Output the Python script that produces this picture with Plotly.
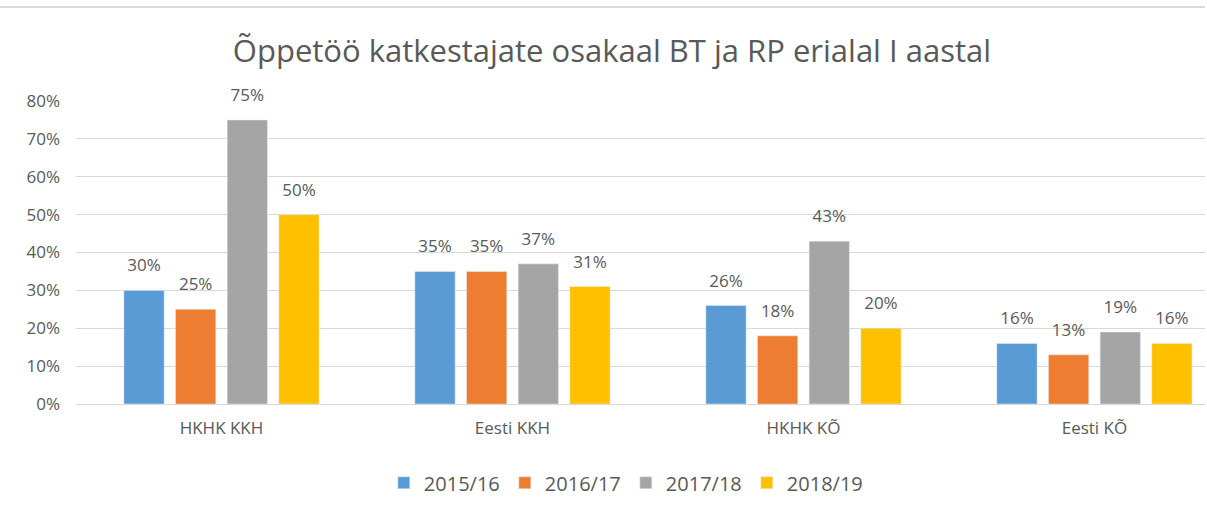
import plotly.graph_objects as go

categories = ["HKHK KKH", "Eesti KKH", "HKHK KÕ", "Eesti KÕ"]
series_names = ["2015/16", "2016/17", "2017/18", "2018/19"]
values_2015 = [0.30, 0.35, 0.26, 0.16]
values_2016 = [0.25, 0.35, 0.18, 0.13]
values_2017 = [0.75, 0.37, 0.43, 0.19]
values_2018 = [0.50, 0.31, 0.20, 0.16]
colors = ["#5B9BD5", "#ED7D31", "#A5A5A5", "#FFC000"]
y_ticks = [0, 0.1, 0.2, 0.3, 0.4, 0.5, 0.6, 0.7, 0.8]
y_tick_labels = ["0%", "10%", "20%", "30%", "40%", "50%", "60%", "70%", "80%"]

FONT = "Open Sans, Segoe UI, sans-serif"
TXT = "#595959"

fig = go.Figure()
for name, vals, col in zip(series_names, [values_2015, values_2016, values_2017, values_2018], colors):
    fig.add_trace(go.Bar(
        name=name, x=categories, y=vals, marker_color=col,
        text=[f"{round(v*100)}%" for v in vals],
        texttemplate="<span style='font-size:17px'>%{text}</span><br>&nbsp;",
        textposition="outside",
        textfont=dict(size=10, color=TXT, family=FONT), cliponaxis=False,
    ))

fig.update_layout(
    width=1207, height=514,
    margin=dict(l=76, r=2, t=101, b=110, autoexpand=False),
    paper_bgcolor="white", plot_bgcolor="white",
    barmode="group", bargap=0.29, bargroupgap=0.22,
    title=dict(text="Õppetöö katkestajate osakaal BT ja RP erialal I aastal",
               x=0.507, xanchor="center", y=0.9, yanchor="middle",
               font=dict(size=31, color=TXT, family=FONT)),
    font=dict(family=FONT, color=TXT),
    legend=dict(orientation="h", x=0.487, xanchor="center", y=-0.26, yanchor="middle",
                font=dict(size=20, color=TXT, family=FONT), itemwidth=30, traceorder="normal",
                entrywidth=76),
)
fig.update_xaxes(range=[-0.5, 3.38], showgrid=False, showline=False, ticks="", automargin=False,
                 tickfont=dict(size=17, color=TXT, family=FONT), ticklabelstandoff=12)
fig.update_yaxes(range=[0, 0.8], tickvals=y_ticks, ticktext=y_tick_labels, automargin=False,
                 showgrid=True, gridcolor="#D9D9D9", gridwidth=1,
                 zeroline=True, zerolinecolor="#D9D9D9", zerolinewidth=1,
                 tickfont=dict(size=17, color=TXT, family=FONT), ticklabelstandoff=15)
fig.add_shape(type="line", xref="paper", yref="paper", x0=-0.07, x1=1.0, y0=1.31, y1=1.31,
              line=dict(color="#D9D9D9", width=2))
fig.write_html("out.html", post_script="document.body.style.margin='0';",
               config={"displayModeBar": False})
